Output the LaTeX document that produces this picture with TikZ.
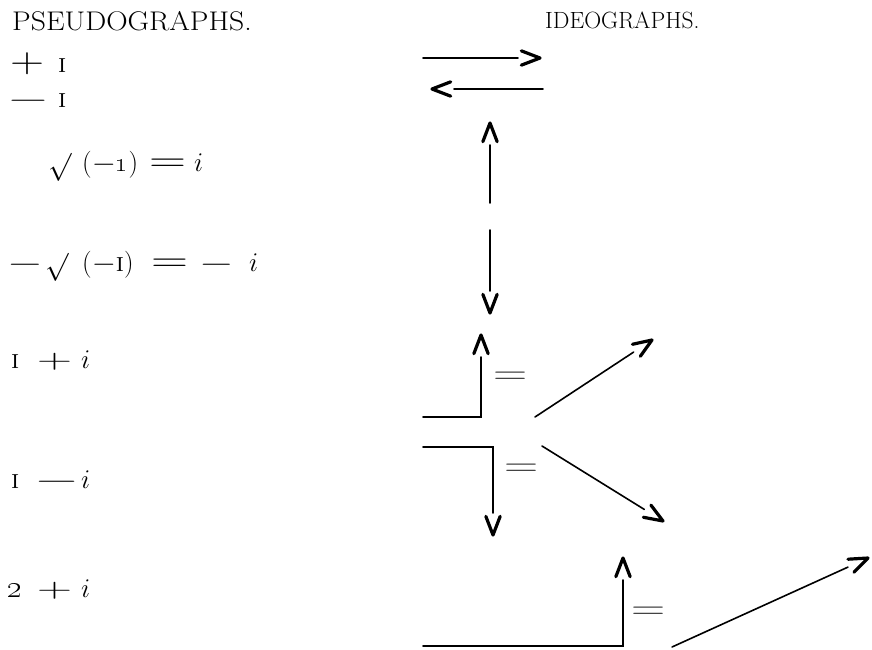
\RequirePackage{fix-cm}
\documentclass[tikz,border=0pt]{standalone}
\usepackage{graphicx}
\usetikzlibrary{calc}
\newcommand\eqL{\scalebox{1.9}[1.3]{$=$}}
\newcommand\eqR{\scalebox{1.75}[1.3]{$=$}}
\newcommand\xmin[1]{\scalebox{#1}[1]{$-$}}
\newcommand\xplus[2]{\scalebox{#1}[#2]{$+$}}
\newcommand\myrad{\raisebox{-3pt}{\fontsize{28}{28}\selectfont$\surd$}}
\newcommand\smI{\textsc{i}}
\newcommand\chevtip[2]{\draw[chevron] ($(#1)!20pt!21:(#2)$) -- (#1) -- ($(#1)!20pt!-21:(#2)$);}
\newcommand\arr[2]{\draw[conn] (#1) -- ($(#2)!22pt!(#1)$); \chevtip{#2}{#1}}
\begin{document}
\begin{tikzpicture}[x=1pt,y=-1pt,
  txt/.style={inner sep=0pt,anchor=base west,font=\fontsize{27}{30}\selectfont},
  conn/.style={line width=1.6pt,line cap=round},
  chevron/.style={line width=3.2pt,line cap=round,line join=round},
  eqr/.style={txt,text=black!75}]
\useasboundingbox (0,0) rectangle (872,649);
% headers
\node[inner sep=0pt,anchor=base west,font=\fontsize{27}{30}\selectfont] (hl) at (12,30) {\scalebox{1.1}[1]{PSEUDOGRAPHS.}};
\node[inner sep=0pt,anchor=base west,font=\fontsize{23.5}{26}\selectfont] (hr) at (545,28) {IDEOGRAPHS.};
% row 1
\node[txt] (r1a) at (10,72) {\xplus{1.75}{1.3}};
\node[txt] (r1b) at (58,72) {\smI};
% row 2
\node[txt] (r2a) at (7,107) {\xmin{2.0}};
\node[txt] (r2b) at (58,107) {\smI};
% row 3
\node[txt] (r3a) at (48,171) {\myrad};
\node[txt] (r3b) at (82,171) {(\xmin{1.15}\oldstylenums{1})};
\node[txt] (r3c) at (149,171) {\eqL};
\node[txt] (r3d) at (194,171) {$i$};
% row 4
\node[txt] (r4a) at (7,271) {\xmin{1.7}};
\node[txt] (r4b) at (45,271) {\myrad};
\node[txt] (r4c) at (82,271) {(\xmin{1.15}\smI)};
\node[txt] (r4d) at (151,271) {\eqL};
\node[txt] (r4e) at (199,271) {\xmin{1.65}};
\node[txt] (r4f) at (249,271) {$i$};
% row 5
\node[txt] (r5a) at (11,368) {\smI};
\node[txt] (r5b) at (37,368) {\xplus{1.8}{1.0}};
\node[txt] (r5c) at (81,368) {$i$};
% row 6
\node[txt] (r6a) at (11,488) {\smI};
\node[txt] (r6b) at (34,488) {\xmin{2.15}};
\node[txt] (r6c) at (81,488) {$i$};
% row 7
\node[txt] (r7a) at (7,597) {\fontsize{31}{31}\selectfont\oldstylenums{2}};
\node[txt] (r7b) at (37,597) {\xplus{1.8}{1.0}};
\node[txt] (r7c) at (81,597) {$i$};
% right equals
\node[eqr] (e1) at (493,384) {\eqR};
\node[eqr] (e2) at (504,476) {\eqR};
\node[eqr] (e3) at (631,619) {\eqR};
% coordinates
\coordinate (a1s) at (423,58);  \coordinate (a1t) at (540,58);
\coordinate (a2s) at (543,89);  \coordinate (a2t) at (432,89);
\coordinate (v1a) at (490,203); \coordinate (v1t) at (490,123);
\coordinate (v1b) at (490,230); \coordinate (v1u) at (490,313);
\coordinate (h1a) at (423,417); \coordinate (h1b) at (481,417); \coordinate (l1t) at (481,335);
\coordinate (d1s) at (535,417); \coordinate (d1t) at (652,340);
\coordinate (h2a) at (423,447); \coordinate (h2b) at (493,447); \coordinate (l2t) at (493,535);
\coordinate (d2s) at (542,446); \coordinate (d2t) at (663,521);
\coordinate (h3a) at (423,646); \coordinate (h3b) at (623,646); \coordinate (l3t) at (623,558);
\coordinate (d3s) at (672,647); \coordinate (d3t) at (868,558);
% arrows
\arr{a1s}{a1t}
\arr{a2s}{a2t}
\arr{v1a}{v1t}
\arr{v1b}{v1u}
\draw[conn] (h1a) -- (h1b) -- ($(l1t)!22pt!(h1b)$); \chevtip{l1t}{h1b}
\arr{d1s}{d1t}
\draw[conn] (h2a) -- (h2b) -- ($(l2t)!22pt!(h2b)$); \chevtip{l2t}{h2b}
\arr{d2s}{d2t}
\draw[conn] (h3a) -- (h3b) -- ($(l3t)!22pt!(h3b)$); \chevtip{l3t}{h3b}
\arr{d3s}{d3t}
\end{tikzpicture}
\end{document}
